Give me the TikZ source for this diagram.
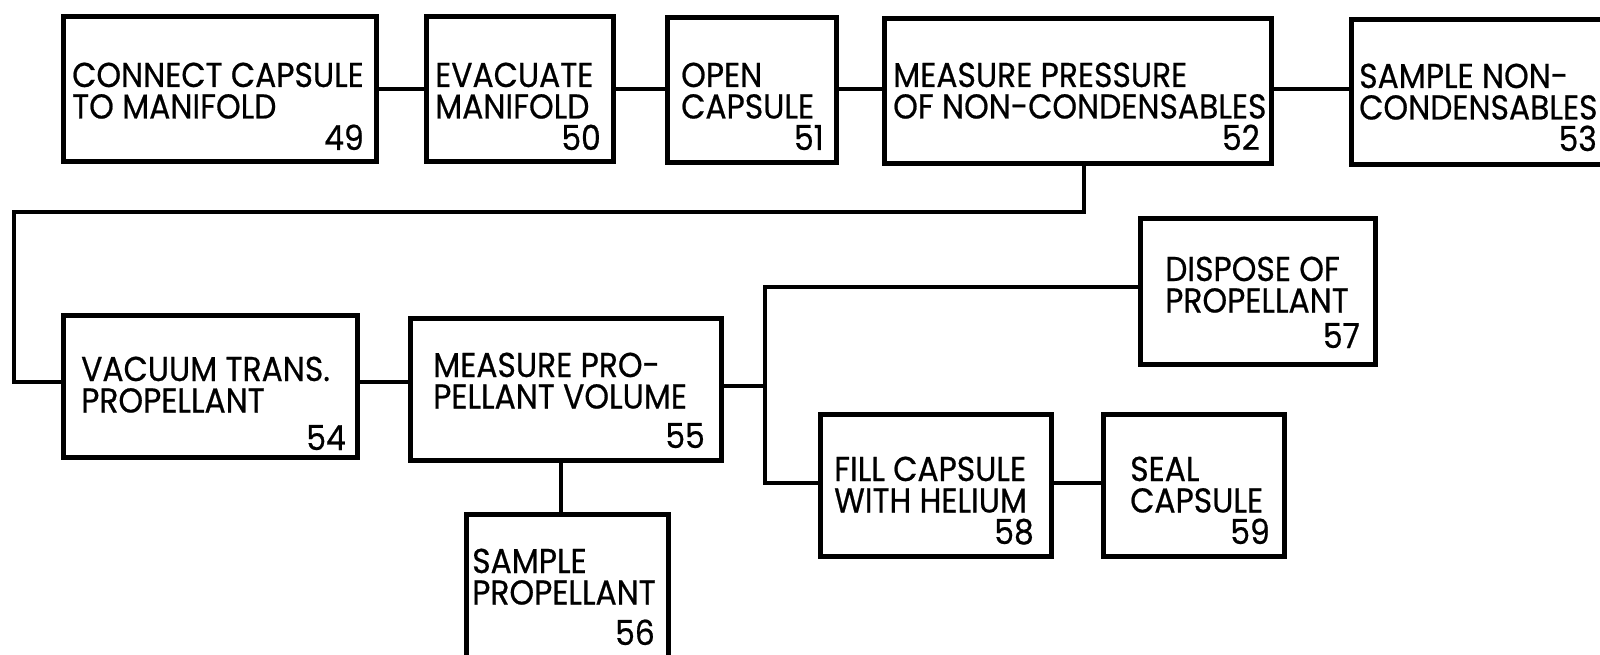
\documentclass[tikz,border=0pt]{standalone}
\usepackage{fontspec}
\setmainfont{Poppins}[FakeStretch=0.91, FakeBold=0.6]
\newcommand{\twolines}[2]{\vtop{\baselineskip=31.5pt\hbox{#1}\hbox{#2}}}
\tikzset{
  box/.style={draw=black, line width=5pt, inner sep=0pt, anchor=north west},
  conn/.style={draw=black, line width=3.2pt},
  lbl/.style={inner sep=0pt, anchor=base west, font=\fontsize{34.5}{31}\selectfont},
  num/.style={inner sep=0pt, anchor=base east, font=\fontsize{34.5}{31}\selectfont}
}
\begin{document}
\begin{tikzpicture}[x=1pt,y=-1pt]
\useasboundingbox (0,0) rectangle (1600,655);
\fill[white] (0,0) rectangle (1600,655);
% boxes
\node[box, minimum width=313pt, minimum height=145pt] (b49) at (61,14) {};
\node[box, minimum width=187pt, minimum height=145pt] (b50) at (424,14) {};
\node[box, minimum width=169pt, minimum height=145pt] (b51) at (665,15) {};
\node[box, minimum width=387pt, minimum height=145pt] (b52) at (882,16) {};
\node[box, minimum width=300pt, minimum height=145pt] (b53) at (1349,17) {};
\node[box, minimum width=294pt, minimum height=142pt] (b54) at (61,313) {};
\node[box, minimum width=311pt, minimum height=142pt] (b55) at (408,316) {};
\node[box, minimum width=202pt, minimum height=200pt] (b56) at (464,512) {};
\node[box, minimum width=235pt, minimum height=146pt] (b57) at (1138,216) {};
\node[box, minimum width=231pt, minimum height=142pt] (b58) at (818,412) {};
\node[box, minimum width=181pt, minimum height=142pt] (b59) at (1101,412) {};
% texts
\node[lbl] (t49) at (72,87) {\twolines{CONNECT CAPSULE}{TO MANIFOLD}};
\node[num] (n49) at (364,150) {49};
\node[lbl] (t50) at (435,87) {\twolines{EVACUATE}{MANIFOLD}};
\node[num] (n50) at (601,150) {50};
\node[lbl] (t51) at (681,87) {\twolines{OPEN}{CAPSULE}};
\node[num] (n51) at (824,150) {51};
\node[lbl] (t52) at (893,87) {\twolines{MEASURE PRESSURE}{OF NON-CONDENSABLES}};
\node[num] (n52) at (1260,150) {52};
\node[lbl] (t53) at (1359,88) {\twolines{SAMPLE NON-}{CONDENSABLES}};
\node[num] (n53) at (1597,151) {53};
\node[lbl] (t54) at (81,381) {\twolines{VACUUM TRANS.}{PROPELLANT}};
\node[num] (n54) at (346,450) {54};
\node[lbl] (t55) at (433,377) {\twolines{MEASURE PRO-}{PELLANT VOLUME}};
\node[num] (n55) at (705,448) {55};
\node[lbl] (t56) at (472,573) {\twolines{SAMPLE}{PROPELLANT}};
\node[num] (n56) at (655,645) {56};
\node[lbl] (t57) at (1165,281) {\twolines{DISPOSE OF}{PROPELLANT}};
\node[num] (n57) at (1360,348) {57};
\node[lbl] (t58) at (834,481) {\twolines{FILL CAPSULE}{WITH HELIUM}};
\node[num] (n58) at (1034,544) {58};
\node[lbl] (t59) at (1130,481) {\twolines{SEAL}{CAPSULE}};
\node[num] (n59) at (1270,544) {59};
% connector coordinates
\coordinate (r1) at (0,89);
\coordinate (r2) at (0,382);
\coordinate (r3) at (0,386);
\coordinate (top57) at (0,287);
\coordinate (row58) at (0,483);
\coordinate (lft) at (14,212);
\coordinate (jx) at (765,0);
\coordinate (v52) at (1084,0);
\coordinate (v55) at (561,0);
% connectors
\draw[conn] (b49.east |- r1) -- (b50.west |- r1);
\draw[conn] (b50.east |- r1) -- (b51.west |- r1);
\draw[conn] (b51.east |- r1) -- (b52.west |- r1);
\draw[conn] (b52.east |- r1) -- (b53.west |- r1);
\draw[conn, line join=miter] (b52.south -| v52) -- (v52 |- lft) -- (lft) -- (lft |- r2) -- (b54.west |- r2);
\draw[conn] (b54.east |- r2) -- (b55.west |- r2);
\draw[conn] (b55.east |- r3) -- (jx |- r3);
\draw[conn, line join=miter] (b57.west |- top57) -- (jx |- top57) -- (jx |- row58) -- (b58.west |- row58);
\draw[conn] (b58.east |- row58) -- (b59.west |- row58);
\draw[conn] (b55.south -| v55) -- (b56.north -| v55);
\end{tikzpicture}
\end{document}
